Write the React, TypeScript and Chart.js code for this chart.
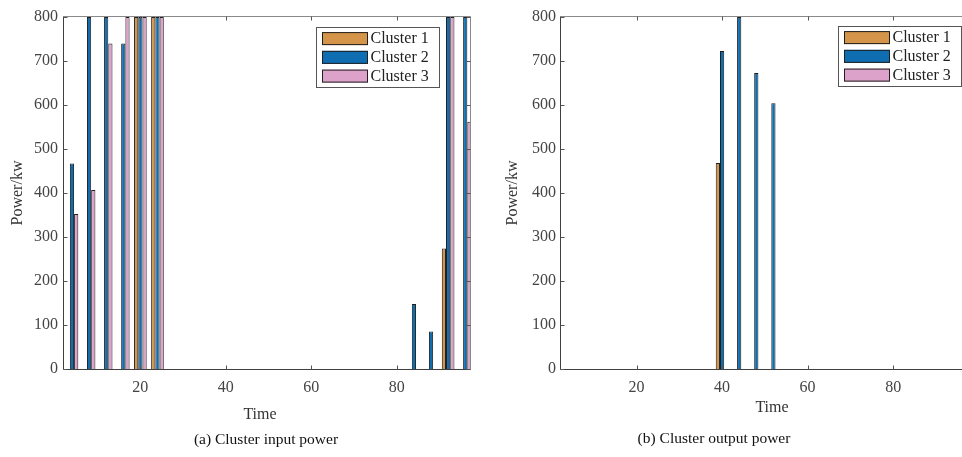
import React, { useEffect, useRef } from "react";
import { Chart, registerables } from "chart.js";

Chart.register(...registerables);

// ---------- data ----------
const TIME = [4, 8, 12, 16, 20, 24, 28, 32, 36, 40, 44, 48, 52, 56, 60, 64, 68, 72, 76, 80, 84, 88, 92, 96];
const X_TICKS = [20, 40, 60, 80];
const Y_TICKS = [0, 100, 200, 300, 400, 500, 600, 700, 800];
const SERIES_NAMES = ["Cluster 1", "Cluster 2", "Cluster 3"];
const SERIES_COLORS = ["#D4954A", "#0F6EB2", "#DDA2C9"];

// (a) Cluster input power
const INPUT_C1 = [0, 0, 0, 0, 800, 800, 0, 0, 0, 0, 0, 0, 0, 0, 0, 0, 0, 0, 0, 0, 0, 0, 274, 0];
const INPUT_C2 = [467, 800, 800, 740, 800, 800, 0, 0, 0, 0, 0, 0, 0, 0, 0, 0, 0, 0, 0, 0, 148, 85, 800, 800];
const INPUT_C3 = [352, 407, 740, 800, 800, 800, 0, 0, 0, 0, 0, 0, 0, 0, 0, 0, 0, 0, 0, 0, 0, 0, 800, 562];

// (b) Cluster output power
const OUTPUT_C1 = [0, 0, 0, 0, 0, 0, 0, 0, 0, 468, 0, 0, 0, 0, 0, 0, 0, 0, 0, 0, 0, 0, 0, 0];
const OUTPUT_C2 = [0, 0, 0, 0, 0, 0, 0, 0, 0, 723, 800, 673, 604, 0, 0, 0, 0, 0, 0, 0, 0, 0, 0, 0];
const OUTPUT_C3 = [0, 0, 0, 0, 0, 0, 0, 0, 0, 0, 0, 0, 0, 0, 0, 0, 0, 0, 0, 0, 0, 0, 0, 0];

const Y_TITLE = "Power/kw";
const X_TITLE = "Time";
const CAPTION_A = "(a) Cluster input power";
const CAPTION_B = "(b) Cluster output power";

// ---------- layout ----------
const FONT = '"Liberation Serif", "Times New Roman", serif';
const W = 962;
const H = 457;

interface PanelSpec {
  series: number[][];
  caption: string;
  xMin: number;
  xMax: number;
  canvasLeft: number;
  canvasWidth: number;
  yAxisWidth: number;
  yTickPad: number;
  padRight: number;
  drawRight: boolean;
  yTitleX: number;
  timeX: number;
  timeY: number;
  captionX: number;
  captionY: number;
  legend: { x: number; y: number; w: number; h: number };
}

const PANELS: PanelSpec[] = [
  {
    series: [INPUT_C1, INPUT_C2, INPUT_C3],
    caption: CAPTION_A,
    xMin: 1.9,
    xMax: 97.35,
    canvasLeft: 0,
    canvasWidth: 481,
    yAxisWidth: 63,
    yTickPad: 5,
    padRight: 10,
    drawRight: true,
    yTitleX: 18,
    timeX: 260,
    timeY: 415,
    captionX: 266,
    captionY: 440,
    legend: { x: 316, y: 27, w: 123, h: 60 },
  },
  {
    series: [OUTPUT_C1, OUTPUT_C2, OUTPUT_C3],
    caption: CAPTION_B,
    xMin: 2.1,
    xMax: 96.1,
    canvasLeft: 481,
    canvasWidth: 481,
    yAxisWidth: 79,
    yTickPad: 4,
    padRight: 0,
    drawRight: false,
    yTitleX: 512.5,
    timeX: 772,
    timeY: 408,
    captionX: 714,
    captionY: 439,
    legend: { x: 838, y: 26, w: 123, h: 60 },
  },
];

function framePlugin(spec: PanelSpec) {
  return {
    id: "frame",
    afterDatasetsDraw(chart: any) {
      const ctx: CanvasRenderingContext2D = chart.ctx;
      const a = chart.chartArea;
      const xs = chart.scales.x;
      const ys = chart.scales.y;
      const off = spec.canvasLeft;
      const L = Math.round(a.left) + 0.5;
      const R = Math.round(a.right) - 0.5;
      const T = Math.round(a.top) - 0.5;
      const B = Math.round(a.bottom) + 0.5;
      ctx.save();
      ctx.lineWidth = 1;

      // box
      ctx.strokeStyle = "#8a8a8a";
      ctx.beginPath();
      ctx.moveTo(L, T);
      ctx.lineTo(spec.drawRight ? R : chart.width, T);
      if (spec.drawRight) {
        ctx.lineTo(R, B);
      }
      ctx.stroke();
      ctx.strokeStyle = "#404040";
      ctx.beginPath();
      ctx.moveTo(L, T);
      ctx.lineTo(L, B);
      ctx.lineTo(spec.drawRight ? R : chart.width, B);
      ctx.stroke();

      // inward ticks
      ctx.strokeStyle = "#555";
      ctx.beginPath();
      for (const t of xs.ticks) {
        const px = Math.round(xs.getPixelForValue(t.value)) + 0.5;
        ctx.moveTo(px, B);
        ctx.lineTo(px, B - 4);
        ctx.moveTo(px, T);
        ctx.lineTo(px, T + 4);
      }
      for (const t of ys.ticks) {
        const py = Math.round(ys.getPixelForValue(t.value)) + 0.5;
        ctx.moveTo(L, py);
        ctx.lineTo(L + 4, py);
        if (spec.drawRight) {
          ctx.moveTo(R, py);
          ctx.lineTo(R - 4, py);
        }
      }
      ctx.stroke();

      // axis titles
      ctx.fillStyle = "#333";
      ctx.font = `16px ${FONT}`;
      ctx.textAlign = "center";
      ctx.textBaseline = "middle";
      ctx.save();
      ctx.translate(spec.yTitleX - off, (a.top + a.bottom) / 2);
      ctx.rotate(-Math.PI / 2);
      ctx.fillText(Y_TITLE, 0, 0);
      ctx.restore();
      ctx.fillText(X_TITLE, spec.timeX - off, spec.timeY);

      // caption
      ctx.fillStyle = "#111";
      ctx.font = `15.5px ${FONT}`;
      ctx.fillText(spec.caption, spec.captionX - off, spec.captionY);

      // legend
      const lg = spec.legend;
      const lx = lg.x - off;
      ctx.fillStyle = "#fff";
      ctx.fillRect(lx, lg.y, lg.w, lg.h);
      ctx.strokeStyle = "#555";
      ctx.strokeRect(lx + 0.5, lg.y + 0.5, lg.w, lg.h);
      ctx.font = `16px ${FONT}`;
      ctx.textAlign = "left";
      chart.data.datasets.forEach((ds: any, i: number) => {
        const cy = lg.y + 11.6 + i * 18.75;
        ctx.fillStyle = ds.backgroundColor;
        ctx.fillRect(lx + 6, cy - 6.5, 46, 13);
        ctx.strokeStyle = "#1f1f1f";
        ctx.strokeRect(lx + 6.5, cy - 6, 45, 12);
        ctx.fillStyle = "#222";
        ctx.fillText(ds.label, lx + 54.5, cy + 0.5);
      });
      ctx.restore();
    },
  };
}

function Panel({ spec }: { spec: PanelSpec }) {
  const ref = useRef<HTMLCanvasElement | null>(null);
  useEffect(() => {
    if (!ref.current) return;
    const chart = new Chart(ref.current, {
      type: "bar",
      data: {
        datasets: spec.series.map((vals, i) => ({
          label: SERIES_NAMES[i],
          data: TIME.map((t, j) => ({ x: t, y: vals[j] })),
          backgroundColor: SERIES_COLORS[i],
          borderColor: "#1f1f1f",
          borderWidth: 1,
          categoryPercentage: 0.74,
          barPercentage: 1.0,
        })),
      },
      options: {
        responsive: false,
        animation: false,
        devicePixelRatio: 1,
        layout: { padding: { top: 17, right: spec.padRight, left: 0, bottom: 0 } },
        plugins: { legend: { display: false }, tooltip: { enabled: false } },
        scales: {
          x: {
            type: "linear",
            min: spec.xMin,
            max: spec.xMax,
            offset: false,
            afterBuildTicks: (s: any) => {
              s.ticks = X_TICKS.map((v) => ({ value: v }));
            },
            afterFit: (s: any) => {
              s.height = 88;
            },
            grid: { display: false, drawTicks: false },
            border: { display: false },
            ticks: {
              font: { family: FONT, size: 16 },
              color: "#444",
              padding: 9,
              maxRotation: 0,
              autoSkip: false,
            },
          },
          y: {
            type: "linear",
            min: 0,
            max: 800,
            afterBuildTicks: (s: any) => {
              s.ticks = Y_TICKS.map((v) => ({ value: v }));
            },
            afterFit: (s: any) => {
              s.width = spec.yAxisWidth;
            },
            grid: { display: false, drawTicks: false },
            border: { display: false },
            ticks: {
              font: { family: FONT, size: 16 },
              color: "#444",
              padding: spec.yTickPad,
            },
          },
        },
      } as any,
      plugins: [framePlugin(spec)],
    });
    return () => chart.destroy();
  }, [spec]);
  return (
    <canvas
      ref={ref}
      width={spec.canvasWidth}
      height={H}
      style={{ position: "absolute", left: spec.canvasLeft, top: 0 }}
    />
  );
}

export default function App() {
  return (
    <div
      style={{
        position: "fixed",
        left: 0,
        top: 0,
        width: W,
        height: H,
        overflow: "hidden",
        background: "#fff",
      }}
    >
      {PANELS.map((p, i) => (
        <Panel key={i} spec={p} />
      ))}
    </div>
  );
}
